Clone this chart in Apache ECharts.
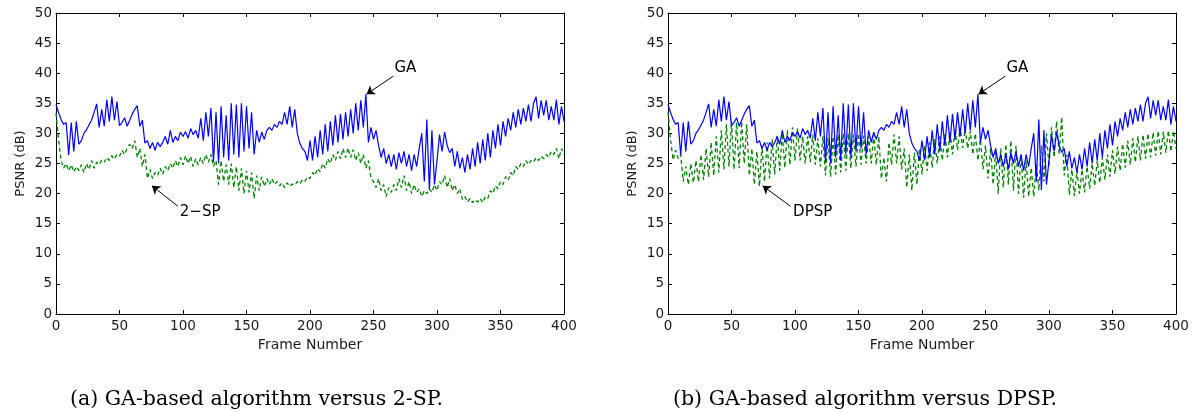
<!DOCTYPE html>
<html><head><meta charset="utf-8">
<script src="https://cdn.jsdelivr.net/npm/echarts@6/dist/echarts.min.js"></script>
<style>html,body{margin:0;padding:0;background:#fff}#c{width:1196px;height:412px}</style>
</head><body><div id="c"></div>
<script>
const FRAME_STEP = 2;
const GA = [
34.8, 33.5, 32.3, 31.5, 31.8, 26.4, 31.8, 27, 32, 28.2,
28.8, 30, 30.6, 31.4, 32.2, 33.5, 34.9, 31, 34, 31.2,
35.6, 32, 36.1, 32.2, 35.3, 31.3, 31.8, 32.6, 31.2, 32.2,
33.2, 34, 34.6, 31.2, 32.2, 28.4, 28.8, 27.5, 28.5, 27.2,
28.5, 27.8, 28.5, 29.5, 28.2, 30.5, 28.5, 29.5, 28.8, 30.2,
29.5, 30.3, 29.2, 30.8, 29.8, 30.5, 29.2, 32.5, 28.8, 33.5,
29.5, 34.2, 25.2, 33.5, 25, 34.5, 26, 33, 25.5, 35,
26.5, 34.8, 26, 35, 27, 34.5, 27.5, 33.5, 26.5, 30.5,
28.5, 30.2, 29, 30.5, 31, 30.5, 31.5, 31, 32, 31.5,
33.5, 31.5, 34.5, 31, 34, 30, 28.4, 27.5, 27, 25.5,
28.8, 25.5, 29.5, 26, 30.5, 26.5, 31.5, 27, 32, 28,
33, 28.5, 33.2, 29, 33.5, 29.5, 34, 30, 35, 30.5,
35.5, 31, 36.5, 28.5, 31, 29, 30.5, 28, 26, 27.5,
25, 26.5, 24.5, 26.5, 24, 26.8, 25, 27, 24.5, 26.5,
23.8, 26.5, 24.5, 27.5, 30, 22, 32.3, 20.6, 30.5, 21.5,
25.5, 29.8, 27, 30.2, 28, 26.8, 27.5, 24.5, 27, 24.2,
26, 23.5, 26.5, 24, 27.5, 24.5, 28.5, 25, 29, 25.5,
30, 26, 30.5, 27.5, 31.5, 28, 32, 29.5, 32.5, 30.5,
33.5, 31, 34, 31.5, 34.2, 32, 34.8, 32, 35, 36.1,
32.5, 35.5, 33, 35.5, 32.2, 34.5, 32.2, 35.6, 31.5, 34.5,
32
];
const SP2 = [
33.4, 29, 25.5, 24.2, 25, 23.8, 24.8, 23.6, 24.5, 23.8,
24.8, 23.5, 25, 24, 25.5, 24.2, 25.2, 24.8, 25.6, 25.2,
26, 25.5, 26.3, 25.7, 26.5, 26.2, 27.2, 26.5, 27.5, 28.2,
27.5, 28.8, 26, 27.5, 24.5, 26.5, 22.5, 24, 22.5, 23.5,
23, 24.2, 23.2, 24.5, 23.8, 25, 24.2, 25.5, 24.5, 26,
24.8, 26.3, 25, 26.2, 24.5, 25.8, 24.8, 26, 25, 26.5,
25.2, 26.5, 24.5, 25.5, 21.5, 25.5, 22, 24.8, 21.5, 25,
21, 24.5, 20.5, 24.2, 20, 23.8, 20.2, 23.5, 19.2, 23,
20.5, 22.8, 21.2, 22.5, 21.5, 22.5, 21.5, 22, 21.3, 21.8,
21, 21.8, 21.2, 21.6, 21.4, 22, 21.6, 22.3, 22, 22.8,
22.5, 23.5, 23, 24.2, 23.6, 25, 24.2, 25.8, 25, 26.5,
25.5, 27, 25.8, 27.5, 26, 27.6, 26, 27.3, 25.5, 26.8,
25, 26.5, 24.2, 25.5, 22.5, 22, 21, 22.5, 20.5, 21.5,
19.5, 21, 20.2, 21.5, 20.5, 22.5, 21, 23, 20.5, 22,
20, 21.5, 20.2, 20.8, 19.5, 20.5, 20, 20.8, 20.2, 21.5,
20.5, 22, 21.5, 23, 21, 22.5, 20.5, 21.5, 20, 20.8,
19, 19.5, 18.6, 19.2, 18.5, 19, 18.6, 19.2, 18.5, 19.5,
19.2, 20.5, 20, 21.3, 20.8, 22, 21.5, 22.8, 22.2, 23.5,
23, 24.5, 24, 25, 24.5, 25.5, 24.8, 25.5, 25.2, 26,
25.5, 26.2, 25.8, 26.5, 26, 27, 26.5, 27.5, 25.8, 27.5,
26.5
];
const DPSP = [
33.5, 29, 25.6, 27.2, 25.8, 26.5, 22, 24.5, 21.5, 25,
21.8, 25.5, 22, 26.5, 22.3, 27.5, 22.8, 28.5, 23, 29.5,
23.5, 30.5, 24, 31.5, 24.5, 32, 24, 31.8, 24.2, 32,
25, 31.5, 23, 27.5, 21.5, 27, 21.2, 28, 22, 28.5,
22.5, 29, 23.2, 29.5, 23.8, 30, 24.3, 30.5, 24.8, 31,
25.5, 30.8, 25.5, 29.5, 25, 29.5, 25.2, 29.8, 24.8, 29.2,
24.5, 29.5, 23, 29.2, 22.8, 29.5, 23.2, 29.8, 23.5, 30,
23.8, 30, 24.2, 29.8, 24.5, 30, 24.8, 29.6, 25, 29.5,
25, 29.8, 24.8, 29.5, 22.5, 26, 22, 28.5, 24.8, 29.8,
25, 29.5, 24, 27.5, 21, 26.5, 20.5, 26.8, 21.5, 27.5,
23.2, 28, 23.8, 28.5, 24.3, 29, 25, 29.5, 25.5, 30,
26, 30.3, 26.5, 30.8, 27.2, 31, 27.6, 30.8, 27.5, 30.4,
26.5, 30, 25.5, 29, 24, 28, 22.5, 27.5, 21.5, 27,
20, 27.5, 21, 28.2, 21.5, 28.8, 20.5, 28, 20, 26.5,
19.3, 25.5, 19.5, 24.3, 19.5, 25, 20.5, 28, 22, 30,
24.5, 31, 26, 32, 26.6, 32.7, 23, 26.5, 19.8, 24,
19.6, 23.8, 20, 24, 20.2, 24.5, 20.8, 25, 21.3, 25.5,
21.8, 26, 22.3, 26.5, 22.8, 27.2, 23.3, 27.8, 23.8, 28.3,
24.3, 28.8, 24.8, 29.2, 25.2, 29.5, 25.5, 29.8, 25.8, 30,
26, 30.2, 26.3, 30.4, 26.5, 30.3, 26.8, 30.5, 27, 30.4,
27.5
];
const X_MIN = 0, X_MAX = 400, X_STEP = 50;
const Y_MIN = 0, Y_MAX = 50, Y_STEP = 5;
const X_NAME = 'Frame Number';
const Y_NAME = 'PSNR (dB)';
const CAPTIONS = ['(a) GA-based algorithm versus 2-SP.', '(b) GA-based algorithm versus DPSP.'];
const OTHER_NAMES = ['2\u2212SP', 'DPSP'];
const GA_NAME = 'GA';
// annotation anchors in data units: [arrow tail, arrow tip, text anchor]
const GA_NOTE = [[265.5, 39.5], [244.5, 36.5], [266.5, 40.9]];
const OTHER_NOTES = [
  [[96, 17.9], [75.5, 21.3], [97.5, 16.9]],
  [[96.5, 17.9], [74.5, 21.3], [98.5, 16.9]]
];

const toPairs = arr => arr.map((v, i) => [i * FRAME_STEP, v]);
const FONT = 'DejaVu Sans';
const TXT = '#1a1a1a';

function xAx(g, pos) {
  const bottom = pos === 'bottom';
  return {
    type: 'value', gridIndex: g, position: pos, min: X_MIN, max: X_MAX, interval: X_STEP,
    name: bottom ? X_NAME : '', nameLocation: 'middle', nameGap: 18,
    nameTextStyle: { fontFamily: FONT, fontSize: 14, color: TXT },
    axisLine: { show: true, onZero: false, lineStyle: { color: '#000', width: 1 } },
    axisTick: { show: true, inside: true, length: 4, lineStyle: { color: '#000', width: 1 } },
    axisLabel: { show: bottom, fontFamily: FONT, fontSize: 13.5, color: TXT, margin: 5 },
    splitLine: { show: false }
  };
}
function yAx(g, pos) {
  const left = pos === 'left';
  return {
    type: 'value', gridIndex: g, position: pos, min: Y_MIN, max: Y_MAX, interval: Y_STEP,
    name: left ? Y_NAME : '', nameLocation: 'middle', nameGap: 29,
    nameTextStyle: { fontFamily: FONT, fontSize: 13, color: TXT },
    axisLine: { show: true, onZero: false, lineStyle: { color: '#000', width: 1 } },
    axisTick: { show: true, inside: true, length: 4, lineStyle: { color: '#000', width: 1 } },
    axisLabel: { show: left, fontFamily: FONT, fontSize: 13.5, color: TXT, margin: 4 },
    splitLine: { show: false }
  };
}
function note(tail, tip, textPos, text) {
  return {
    markLine: {
      silent: true, animation: false, symbol: ['none', 'arrow'], symbolSize: 8,
      lineStyle: { color: '#000', width: 1, type: 'solid' },
      label: { show: false },
      data: [[{ coord: tail }, { coord: tip }]]
    },
    markPoint: {
      silent: true, animation: false, symbol: 'circle', symbolSize: 0,
      itemStyle: { color: 'transparent' },
      label: { show: true, position: 'right', distance: 0, formatter: text,
        fontFamily: FONT, fontSize: 15, color: '#000' },
      data: [{ coord: textPos }]
    }
  };
}
const others = [SP2, DPSP];
const series = [];
for (let g = 0; g < 2; g++) {
  series.push(Object.assign({
    type: 'line', name: OTHER_NAMES[g], xAxisIndex: g * 2, yAxisIndex: g * 2,
    data: toPairs(others[g]), showSymbol: false, animation: false,
    lineStyle: { color: '#008000', width: 1.3, type: [4, 3] }, z: 2
  }, note(OTHER_NOTES[g][0], OTHER_NOTES[g][1], OTHER_NOTES[g][2], OTHER_NAMES[g])));
  series.push(Object.assign({
    type: 'line', name: GA_NAME, xAxisIndex: g * 2, yAxisIndex: g * 2,
    data: toPairs(GA), showSymbol: false, animation: false,
    lineStyle: { color: '#0000ff', width: 1.2 }, z: 3
  }, note(GA_NOTE[0], GA_NOTE[1], GA_NOTE[2], GA_NAME)));
}

const chart = echarts.init(document.getElementById('c'), null, { renderer: 'canvas' });
chart.setOption({
  backgroundColor: '#fff',
  animation: false,
  grid: [
    { left: 56, top: 13, width: 508, height: 301 },
    { left: 668, top: 13, width: 508, height: 301 }
  ],
  xAxis: [xAx(0, 'bottom'), xAx(0, 'top'), xAx(1, 'bottom'), xAx(1, 'top')],
  yAxis: [yAx(0, 'left'), yAx(0, 'right'), yAx(1, 'left'), yAx(1, 'right')],
  series: series,
  graphic: [
    { type: 'text', left: 70, top: 389, style: { text: CAPTIONS[0], font: '20.5px "DejaVu Serif"', fill: '#000' } },
    { type: 'text', left: 673, top: 389, style: { text: CAPTIONS[1], font: '20.5px "DejaVu Serif"', fill: '#000' } }
  ]
});
</script>
</body></html>
